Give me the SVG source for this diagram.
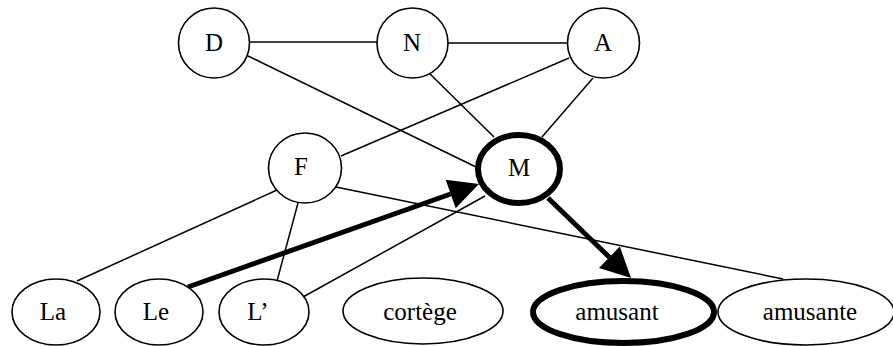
<svg xmlns="http://www.w3.org/2000/svg" width="893" height="346" viewBox="0 0 893 346">
  <style>
    .node { fill: #ffffff; stroke: #000000; stroke-width: 1.6; }
    .bold { stroke-width: 6; }
    .label { font-family: "Liberation Serif", "Times New Roman", serif; font-size: 25px; fill: #000000; text-anchor: middle; }
    .edge { stroke: #000000; stroke-width: 1.5; fill: none; }
    .path { stroke: #000000; stroke-width: 5; fill: none; marker-end: url(#head); }
  </style>
  <defs>
    <marker id="head" markerUnits="userSpaceOnUse" markerWidth="30" markerHeight="30" refX="0" refY="15" orient="auto" overflow="visible">
      <path d="M0,0 L30,15 L0,30 Z" fill="#000000"/>
    </marker>
  </defs>
  <rect width="893" height="346" fill="#ffffff"/>

  <!-- connectors -->
  <g id="connectors">
    <line class="edge" x1="249" y1="42" x2="377" y2="42"/>
    <line class="edge" x1="448" y1="43" x2="567" y2="43"/>
    <line class="edge" x1="248" y1="56" x2="476" y2="167"/>
    <line class="edge" x1="428" y1="72" x2="494" y2="137"/>
    <line class="edge" x1="593" y1="78" x2="542" y2="137"/>
    <line class="edge" x1="569" y1="58" x2="341" y2="156"/>
    <line class="edge" x1="277" y1="190" x2="77" y2="281"/>
    <line class="edge" x1="298" y1="203" x2="277" y2="281"/>
    <line class="edge" x1="336" y1="187" x2="783" y2="279"/>
    <line class="edge" x1="485" y1="196" x2="303" y2="297"/>
    <line class="path" x1="188" y1="287" x2="450.7" y2="194"/>
    <line class="path" x1="548" y1="198" x2="609.4" y2="257.2"/>
  </g>

  <!-- upper nodes -->
  <g id="node-D">
    <ellipse class="node" cx="214" cy="43" rx="35.5" ry="35"/>
    <text class="label" x="214" y="51">D</text>
  </g>
  <g id="node-N">
    <ellipse class="node" cx="412.5" cy="43" rx="35.5" ry="35"/>
    <text class="label" x="412" y="51">N</text>
  </g>
  <g id="node-A">
    <ellipse class="node" cx="603.5" cy="43" rx="36" ry="35"/>
    <text class="label" x="603" y="51">A</text>
  </g>
  <g id="node-F">
    <ellipse class="node" cx="305" cy="168" rx="36.5" ry="35"/>
    <text class="label" x="301" y="175">F</text>
  </g>
  <g id="node-M">
    <ellipse class="node bold" cx="519" cy="169" rx="41" ry="34"/>
    <text class="label" x="519" y="176">M</text>
  </g>

  <!-- word nodes -->
  <g id="node-La">
    <ellipse class="node" cx="56" cy="312" rx="44" ry="33"/>
    <text class="label" x="53" y="320">La</text>
  </g>
  <g id="node-Le">
    <ellipse class="node" cx="159" cy="312" rx="44" ry="33"/>
    <text class="label" x="156" y="320">Le</text>
  </g>
  <g id="node-L">
    <ellipse class="node" cx="264" cy="312" rx="45" ry="33"/>
    <text class="label" x="258" y="320">L’</text>
  </g>
  <g id="node-cortege">
    <ellipse class="node" cx="423" cy="311" rx="80" ry="33"/>
    <text class="label" x="420" y="320">cortège</text>
  </g>
  <g id="node-amusant">
    <ellipse class="node bold" cx="623.5" cy="312" rx="90.5" ry="31"/>
    <text class="label" x="617" y="320">amusant</text>
  </g>
  <g id="node-amusante">
    <ellipse class="node" cx="806" cy="312" rx="88" ry="33"/>
    <text class="label" x="810" y="320">amusante</text>
  </g>
</svg>
